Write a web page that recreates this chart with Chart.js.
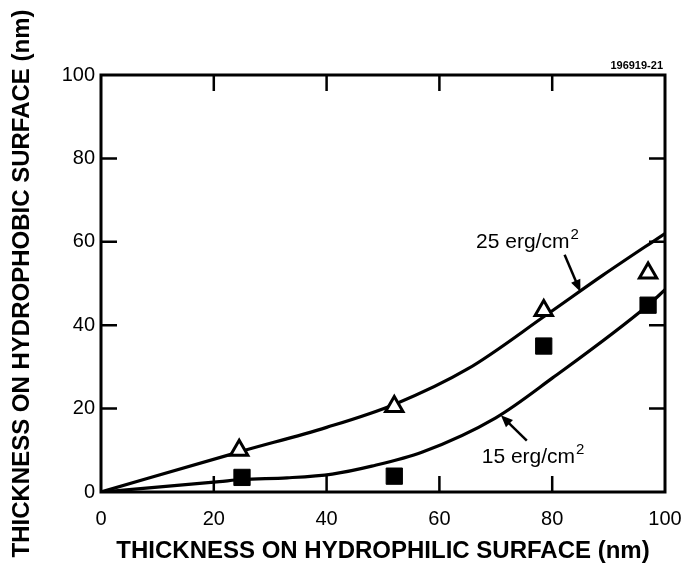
<!DOCTYPE html>
<html>
<head>
<meta charset="utf-8">
<script src="https://cdn.jsdelivr.net/npm/chart.js@4/dist/chart.umd.min.js"></script>
<style>
html, body { margin: 0; padding: 0; background: #fff; }
</style>
</head>
<body>
<canvas id="myChart" width="684" height="570"></canvas>
<script>
// measured points, thickness on hydrophilic (x) vs hydrophobic (y), nm
var triX = [24.5, 52, 78.5, 97];
var triY = [10, 20.5, 43.5, 52.5];
var sqX = [25, 52, 78.5, 97];
var sqY = [3.5, 3.8, 35, 44.8];

// model curves for the two interfacial energies
var fit25X = [0, 25, 40, 52, 65, 79, 89, 100];
var fit25Y = [0, 9.8, 15.5, 21, 29.5, 42.5, 52, 62];
var fit15X = [0, 21, 25, 33, 41, 48, 57, 70, 80, 97, 100];
var fit15Y = [0, 2.5, 3.0, 3.4, 4.3, 6.2, 9.6, 17.8, 27.3, 44.8, 48.5];

var tickVals = [0, 20, 40, 60, 80, 100];
var curveLabels = ['25 erg/cm', '15 erg/cm'];
var figId = '196919-21';

var FONT = '"Liberation Sans", Arial, Helvetica, sans-serif';

function pts(xs, ys) {
   return xs.map(function(x, i) { return { x: x, y: ys[i] }; });
}

function arrow(ctx, x1, y1, x2, y2) {
   var a = Math.atan2(y2 - y1, x2 - x1);
   ctx.beginPath();
   ctx.moveTo(x1, y1);
   ctx.lineTo(x2 - Math.cos(a) * 8, y2 - Math.sin(a) * 8);
   ctx.stroke();
   ctx.beginPath();
   ctx.moveTo(x2, y2);
   ctx.lineTo(x2 - Math.cos(a) * 12 + Math.sin(a) * 5, y2 - Math.sin(a) * 12 - Math.cos(a) * 5);
   ctx.lineTo(x2 - Math.cos(a) * 12 - Math.sin(a) * 5, y2 - Math.sin(a) * 12 + Math.cos(a) * 5);
   ctx.closePath();
   ctx.fill();
}

function unitLabel(ctx, text, x, y) {
   ctx.font = '21px ' + FONT;
   ctx.textAlign = 'left';
   ctx.textBaseline = 'alphabetic';
   ctx.fillText(text, x, y);
   var w = ctx.measureText(text).width;
   ctx.font = '15px ' + FONT;
   ctx.fillText('2', x + w + 1, y - 9);
}

// box around the plot, inward tick marks on all four sides, curve labels
var framePlugin = {
   id: 'frame',
   beforeDatasetsDraw: function(chart) {
      var ctx = chart.ctx, a = chart.chartArea;
      var xs = chart.scales.x, ys = chart.scales.y;
      var len = 16;
      ctx.save();
      ctx.strokeStyle = '#000';
      ctx.lineWidth = 3;
      ctx.strokeRect(a.left, a.top, a.right - a.left, a.bottom - a.top);
      ctx.lineWidth = 2.5;
      ctx.beginPath();
      tickVals.slice(1, -1).forEach(function(v) {
         var px = xs.getPixelForValue(v);
         ctx.moveTo(px, a.bottom); ctx.lineTo(px, a.bottom - len);
         ctx.moveTo(px, a.top); ctx.lineTo(px, a.top + len);
         var py = ys.getPixelForValue(v);
         ctx.moveTo(a.left, py); ctx.lineTo(a.left + len, py);
         ctx.moveTo(a.right, py); ctx.lineTo(a.right - len, py);
      });
      ctx.stroke();
      ctx.restore();
   },
   afterDraw: function(chart) {
      var ctx = chart.ctx, a = chart.chartArea;
      var xs = chart.scales.x, ys = chart.scales.y;
      function X(v) { return xs.getPixelForValue(v); }
      function Y(v) { return ys.getPixelForValue(v); }
      ctx.save();
      ctx.fillStyle = '#000';
      ctx.strokeStyle = '#000';
      ctx.lineWidth = 2.5;

      unitLabel(ctx, curveLabels[0], X(66.5), Y(58.5));
      arrow(ctx, X(82.2), Y(56.9), X(85.0), Y(48.0));

      unitLabel(ctx, curveLabels[1], X(67.5), Y(7));
      arrow(ctx, X(75.5), Y(12.3), X(70.9), Y(18.4));

      ctx.font = 'bold 11px ' + FONT;
      ctx.textAlign = 'right';
      ctx.fillText(figId, a.right - 2, a.top - 6);
      ctx.restore();
   }
};

var ctx = document.getElementById('myChart').getContext('2d');
var chart = new Chart(ctx, {
   type: 'scatter',
   data: {
      datasets: [{
         data: pts(fit25X, fit25Y),
         showLine: true,
         borderColor: '#000',
         borderWidth: 3.2,
         pointRadius: 0,
         cubicInterpolationMode: 'monotone',
         order: 3
      }, {
         data: pts(fit15X, fit15Y),
         showLine: true,
         borderColor: '#000',
         borderWidth: 3.2,
         pointRadius: 0,
         cubicInterpolationMode: 'monotone',
         order: 2
      }, {
         data: pts(triX, triY),
         pointStyle: 'triangle',
         pointRadius: 10,
         pointBorderWidth: 3,
         pointBorderColor: '#000',
         pointBackgroundColor: '#fff',
         order: 1
      }, {
         data: pts(sqX, sqY),
         pointStyle: 'rect',
         pointRadius: 11.5,
         pointBorderWidth: 1,
         pointBorderColor: '#000',
         pointBackgroundColor: '#000',
         order: 0
      }]
   },
   options: {
      responsive: false,
      animation: false,
      events: [],
      layout: { padding: { top: 75, right: 0, left: 0, bottom: 0 } },
      plugins: {
         legend: { display: false },
         tooltip: { enabled: false }
      },
      scales: {
         x: {
            type: 'linear',
            min: 0,
            max: 100,
            afterBuildTicks: function(s) { s.ticks = tickVals.map(function(v) { return { value: v }; }); },
            grid: { display: false, drawTicks: false },
            border: { display: false },
            ticks: { color: '#000', padding: 15, maxRotation: 0, font: { family: FONT, size: 20 } },
            title: {
               display: true,
               text: 'THICKNESS ON HYDROPHILIC SURFACE (nm)',
               color: '#000',
               font: { family: FONT, size: 24, weight: 'bold' },
               padding: { top: 3 }
            },
            afterFit: function(s) { s.height = 78; s.paddingRight = 19; s.paddingLeft = 0; }
         },
         y: {
            type: 'linear',
            min: 0,
            max: 100,
            afterBuildTicks: function(s) { s.ticks = tickVals.map(function(v) { return { value: v }; }); },
            grid: { display: false, drawTicks: false },
            border: { display: false },
            ticks: { color: '#000', padding: 6, font: { family: FONT, size: 20 } },
            title: {
               display: true,
               text: 'THICKNESS ON HYDROPHOBIC SURFACE (nm)',
               color: '#000',
               font: { family: FONT, size: 24, weight: 'bold' },
               padding: { top: 8 }
            },
            afterFit: function(s) { s.width = 101; }
         }
      }
   },
   plugins: [framePlugin]
});
</script>
</body>
</html>
